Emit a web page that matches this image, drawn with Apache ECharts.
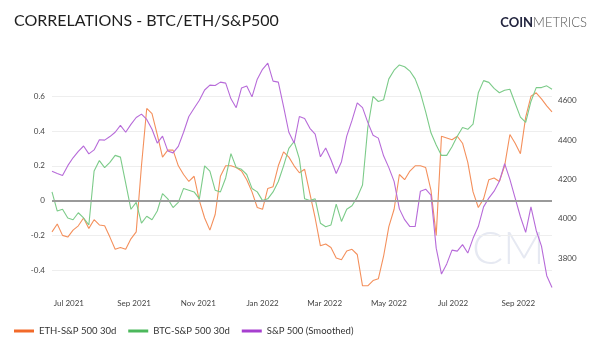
<!DOCTYPE html>
<html>
<head>
    <meta charset="utf-8">
    <title>Correlations - BTC/ETH/S&P500</title>
    <script src="https://cdn.jsdelivr.net/npm/echarts@6/dist/echarts.min.js"></script>
    <style>
        html, body { margin: 0; padding: 0; background: #fff; }
    </style>
</head>
<body>
    <div id="main" style="width: 600px;height:350px;"></div>
    <script type="text/javascript">
        // samples every 5 days starting 2021-06-15
        var startDate = '2021-06-15';
        var stepDays = 5;

        var ethSpx = [
            -0.18, -0.135, -0.20, -0.21, -0.17, -0.145, -0.10, -0.16, -0.11, -0.14,
            -0.145, -0.21, -0.28, -0.27, -0.28, -0.22, -0.18, 0.20, 0.53, 0.50,
            0.38, 0.25, 0.29, 0.29, 0.20, 0.15, 0.11, 0.14, 0.00, -0.10,
            -0.17, -0.08, 0.14, 0.20, 0.20, 0.19, 0.17, 0.12, 0.05, -0.04,
            -0.05, 0.07, 0.08, 0.20, 0.28, 0.25, 0.20, 0.16, 0.18, 0.04,
            -0.10, -0.26, -0.25, -0.27, -0.33, -0.34, -0.29, -0.28, -0.31, -0.49,
            -0.49, -0.46, -0.45, -0.32, -0.15, -0.05, 0.15, 0.12, 0.17, 0.20,
            0.20, 0.19, 0.06, -0.20, 0.37, 0.36, 0.35, 0.37, 0.33, 0.22,
            0.05, -0.04, 0.01, 0.12, 0.13, 0.11, 0.20, 0.38, 0.33, 0.27,
            0.48, 0.60, 0.62, 0.585, 0.545, 0.51
        ];
        var btcSpx = [
            0.05, -0.06, -0.05, -0.10, -0.11, -0.07, -0.10, -0.14, 0.17, 0.23,
            0.19, 0.22, 0.26, 0.25, 0.10, -0.05, -0.01, -0.13, -0.09, -0.11,
            -0.06, 0.04, 0.01, -0.04, -0.01, 0.07, 0.06, 0.05, 0.01, 0.20,
            0.17, 0.06, 0.05, 0.13, 0.27, 0.19, 0.18, 0.15, 0.07, 0.05,
            0.00, 0.01, 0.05, 0.11, 0.20, 0.30, 0.34, 0.24, 0.01, 0.00,
            0.01, -0.13, -0.15, -0.14, -0.02, -0.12, -0.05, -0.03, 0.02, 0.09,
            0.42, 0.60, 0.57, 0.58, 0.70, 0.75, 0.78, 0.77, 0.745, 0.70,
            0.62, 0.51, 0.39, 0.32, 0.26, 0.26, 0.31, 0.37, 0.42, 0.41,
            0.44, 0.62, 0.69, 0.68, 0.645, 0.62, 0.635, 0.64, 0.56, 0.48,
            0.45, 0.57, 0.65, 0.65, 0.66, 0.64
        ];
        var spxSmoothed = [
            4241, 4230, 4220, 4270, 4310, 4343, 4370, 4330, 4350, 4402,
            4400, 4418, 4440, 4475, 4440, 4480, 4515, 4532, 4505, 4455,
            4385, 4420, 4345, 4335, 4368, 4440, 4520, 4562, 4603, 4655,
            4680, 4678, 4695, 4690, 4610, 4565, 4665, 4675, 4620, 4710,
            4760, 4792, 4700, 4695, 4570, 4440, 4385, 4520, 4510, 4460,
            4430, 4315, 4360, 4300, 4230, 4290, 4420, 4500, 4589, 4565,
            4490, 4425, 4410, 4320, 4260, 4190, 4050, 3995, 3960, 3960,
            4140, 4150, 4120, 3850, 3718, 3770, 3840, 3835, 3868, 3825,
            3900, 3960, 4060, 4105, 4140, 4190, 4280, 4200, 4105, 4010,
            3930, 4060, 3940, 3860, 3710, 3650
        ];

        var monthTicks = ['2021-07-01', '2021-09-01', '2021-11-01', '2022-01-01',
                          '2022-03-01', '2022-05-01', '2022-07-01', '2022-09-01'];
        var corrTicks = [-0.4, -0.2, 0, 0.2, 0.4, 0.6];
        var spxTicks = [3800, 4000, 4200, 4400, 4600];

        var monthNames = ['Jan','Feb','Mar','Apr','May','Jun','Jul','Aug','Sep','Oct','Nov','Dec'];
        var DAY = 24 * 3600 * 1000;
        var t0 = Date.parse(startDate + 'T00:00:00Z');

        function pairs(values) {
            return values.map(function (v, i) {
                return [t0 + i * stepDays * DAY, v];
            });
        }

        var myChart = echarts.init(document.getElementById('main'));

        var option = {
            backgroundColor: '#fff',
            animation: false,
            textStyle: { fontFamily: 'Lato' },
            title: [{
                text: 'CORRELATIONS - BTC/ETH/S&P500',
                left: 9,
                top: 8,
                textStyle: { fontSize: 16, fontWeight: 'normal', color: '#1e1e1e', fontFamily: 'Lato' }
            }, {
                text: '{a|COIN}{b|METRICS}',
                right: 8,
                top: 11,
                textStyle: {
                    rich: {
                        a: { fontSize: 13, fontWeight: 'bold', color: '#23253f', fontFamily: 'Lato' },
                        b: { fontSize: 13, fontWeight: 300, color: '#555', fontFamily: 'Lato' }
                    }
                }
            }],
            graphic: [{
                type: 'text',
                left: 472,
                top: 226,
                z: 0,
                style: {
                    text: 'CM',
                    fontSize: 46,
                    fontWeight: 300,
                    fontFamily: 'Lato',
                    fill: '#e6e9f2'
                }
            }],
            legend: {
                left: 9,
                top: 321,
                icon: 'rect',
                itemWidth: 20,
                itemHeight: 3,
                itemGap: 12,
                textStyle: { fontSize: 9.5, color: '#333' },
                data: [
                    { name: 'ETH-S&P 500 30d', itemStyle: { color: '#f26a2a' } },
                    { name: 'BTC-S&P 500 30d', itemStyle: { color: '#4cb85c' } },
                    { name: 'S&P 500 (Smoothed)', itemStyle: { color: '#a63fcf' } }
                ]
            },
            grid: {
                left: 52,
                right: 48,
                top: 61.5,
                bottom: 59
            },
            xAxis: {
                type: 'value',
                min: t0,
                max: t0 + (ethSpx.length - 1) * stepDays * DAY,
                axisLine: { show: false },
                axisTick: { show: false },
                splitLine: { show: false },
                axisLabel: {
                    customValues: monthTicks.map(function (d) { return Date.parse(d + 'T00:00:00Z'); }),
                    fontSize: 8,
                    color: '#444',
                    margin: 8,
                    formatter: function (val) {
                        var d = new Date(val);
                        return monthNames[d.getUTCMonth()] + ' ' + d.getUTCFullYear();
                    }
                }
            },
            yAxis: [{
                type: 'value',
                min: -0.52,
                max: 0.8,
                axisLine: { show: false },
                axisTick: { show: false, customValues: corrTicks },
                axisLabel: {
                    customValues: corrTicks,
                    fontSize: 8,
                    color: '#444',
                    margin: 7
                },
                splitLine: { lineStyle: { color: '#eeeeee', width: 1 } }
            }, {
                type: 'value',
                min: 3632,
                max: 4800,
                position: 'right',
                axisLine: { show: false },
                axisTick: { show: false },
                splitLine: { show: false },
                axisLabel: {
                    customValues: spxTicks,
                    fontSize: 8,
                    color: '#444',
                    margin: 6,
                    formatter: function (val) { return String(val); }
                }
            }],
            series: [{
                name: 'ETH-S&P 500 30d',
                type: 'line',
                yAxisIndex: 0,
                showSymbol: false,
                z: 3,
                data: pairs(ethSpx),
                lineStyle: { color: '#f4905c', width: 1.1 },
                itemStyle: { color: '#f4905c' },
                markLine: {
                    silent: true,
                    symbol: 'none',
                    label: { show: false },
                    lineStyle: { color: '#9a9a9a', width: 2, type: 'solid' },
                    data: [{ yAxis: 0 }]
                }
            }, {
                name: 'BTC-S&P 500 30d',
                type: 'line',
                yAxisIndex: 0,
                showSymbol: false,
                z: 3,
                data: pairs(btcSpx),
                lineStyle: { color: '#7ccb89', width: 1.1 },
                itemStyle: { color: '#7ccb89' }
            }, {
                name: 'S&P 500 (Smoothed)',
                type: 'line',
                yAxisIndex: 1,
                showSymbol: false,
                z: 3,
                data: pairs(spxSmoothed),
                lineStyle: { color: '#b76bd9', width: 1.1 },
                itemStyle: { color: '#b76bd9' }
            }]
        };

        myChart.setOption(option);
    </script>
</body>
</html>
